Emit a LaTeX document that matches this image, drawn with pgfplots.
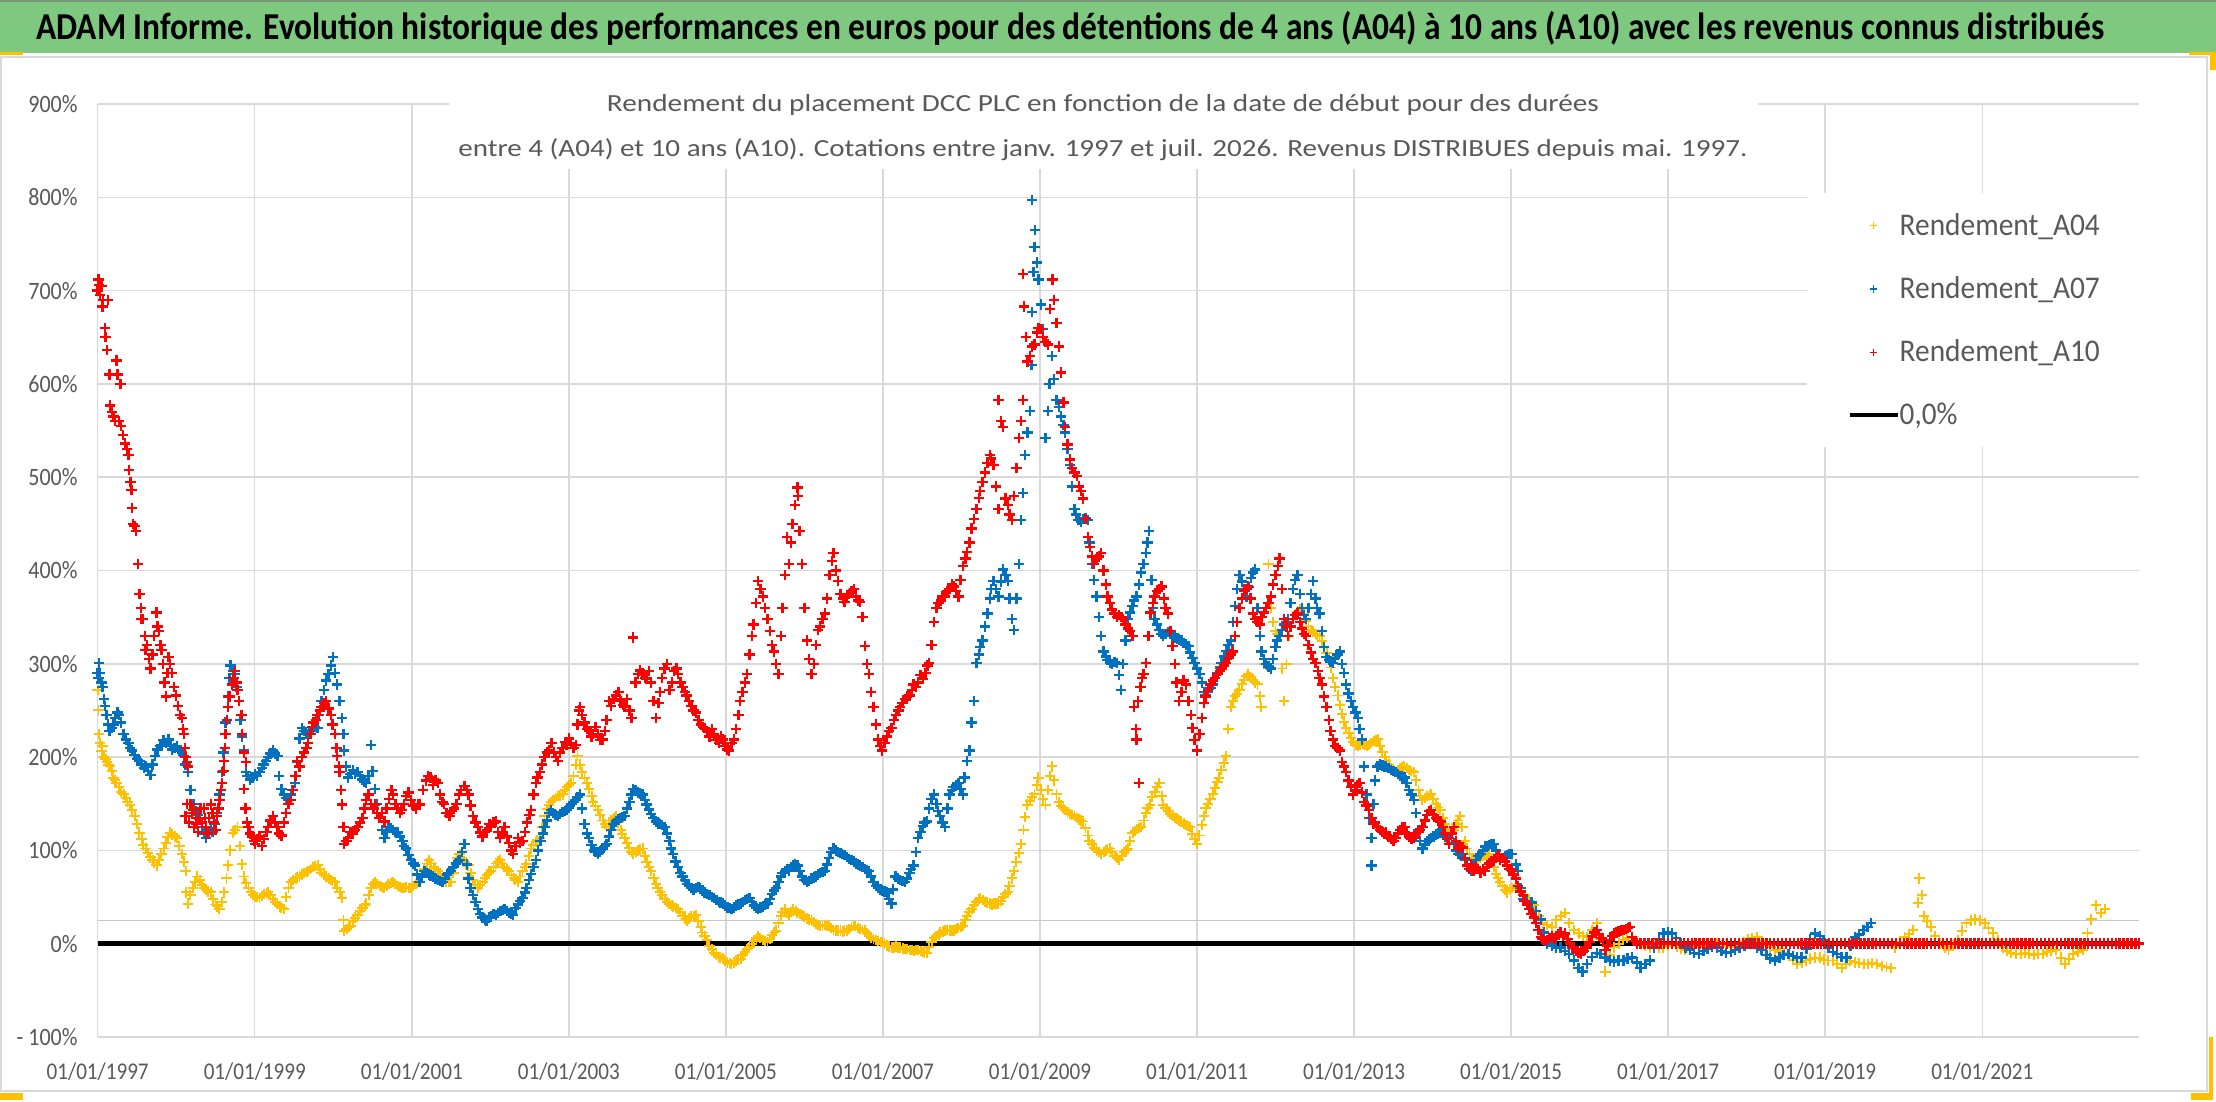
\documentclass[border=0pt]{standalone}
\usepackage{pgfplots}
\pgfplotsset{compat=1.18}
\usepackage{graphicx}
\usepackage{fontspec}
\setmainfont{Carlito}
\definecolor{titlegreen}{RGB}{126,200,128}
\definecolor{txtgray}{RGB}{89,89,89}
\definecolor{gridgray}{RGB}{217,217,217}
\definecolor{lineg}{RGB}{200,200,200}
\definecolor{a04}{RGB}{255,192,0}
\definecolor{a07}{RGB}{0,112,192}
\definecolor{a10}{RGB}{255,0,0}
\newcommand{\tl}[1]{\scalebox{0.88}[1]{#1}}
\pgfplotsset{
  markleg/.style={legend image code/.code={\draw[##1, mark size=1.8pt, line width=0.6pt] plot coordinates {(12pt,0pt)};}},
  lineleg/.style={legend image code/.code={\draw[##1] (0pt,0pt) -- (24pt,0pt);}}
}
\begin{document}
\begin{tikzpicture}
\useasboundingbox (0pt,0pt) rectangle (1108pt,551pt);
\fill[white] (0pt,0pt) rectangle (1108pt,551pt);
\fill[titlegreen] (0pt,524.5pt) rectangle (1108pt,551pt);
\draw[line width=1pt, color={rgb,255:red,120;green,150;blue,120}] (0pt,550.5pt) -- (1108pt,550.5pt);
\draw[gridgray, line width=1pt] (0.5pt,5.5pt) rectangle (1103.5pt,522.5pt);
\node[anchor=base west, inner sep=0pt] at (18pt,531pt) {\resizebox{1034pt}{\height}{\fontsize{19}{19}\selectfont\bfseries ADAM Informe. Evolution historique des performances en euros pour des détentions de 4 ans (A04) à 10 ans (A10) avec les revenus connus distribués}};
\begin{axis}[
  at={(48.85pt,32.5pt)}, anchor=south west,
  scale only axis, width=1020.8pt, height=466.5pt,
  xmin=1997, xmax=2023, ymin=-100, ymax=900,
  axis line style={draw=none},
  tick style={draw=none},
  major tick length=0pt,
  xtick={1997,1999,2001,2003,2005,2007,2009,2011,2013,2015,2017,2019,2021},
  xticklabels={\tl{01/01/1997},\tl{01/01/1999},\tl{01/01/2001},\tl{01/01/2003},\tl{01/01/2005},\tl{01/01/2007},\tl{01/01/2009},\tl{01/01/2011},\tl{01/01/2013},\tl{01/01/2015},\tl{01/01/2017},\tl{01/01/2019},\tl{01/01/2021}},
  ytick={-100,0,100,200,300,400,500,600,700,800,900},
  yticklabels={\tl{- 100\%},\tl{0\%},\tl{100\%},\tl{200\%},\tl{300\%},\tl{400\%},\tl{500\%},\tl{600\%},\tl{700\%},\tl{800\%},\tl{900\%}},
  grid=major,
  major grid style={draw=gridgray, line width=0.75pt},
  xticklabel style={anchor=base, yshift=-21.25pt, inner sep=0pt, font=\fontsize{12}{12}\selectfont, text=txtgray},
  yticklabel style={anchor=east, xshift=-9.85pt, inner sep=0pt, font=\fontsize{12.5}{12.5}\selectfont, text=txtgray},
  legend style={at={(0.8372,0.9046)}, anchor=north west, draw=none, fill=white, inner xsep=20pt, inner ysep=10pt, font=\fontsize{15.8}{15.8}\selectfont, text=txtgray, row sep=19.1pt, /tikz/column 2/.style={column sep=2.5pt}, nodes={inner sep=0pt}},
  legend cell align=left,
]
\addplot[forget plot, draw=lineg, line width=0.75pt] coordinates {(1997,25) (2023,25)};
\addplot[forget plot, black, line width=2.2pt] coordinates {(1997,0) (2023,0)};
% Rendement_A04
\addplot[only marks, mark=+, color=a04, mark size=2.6pt, line width=0.95pt, markleg] coordinates {
(1997.00,272)(1997.01,250)(1997.02,225)(1997.03,215)(1997.05,207)(1997.06,212)(1997.08,200)(1997.10,198)(1997.12,195)(1997.14,192)
(1997.16,190)(1997.18,185)(1997.20,178)(1997.22,175)(1997.24,172)(1997.27,168)(1997.30,163)(1997.33,160)(1997.36,156)(1997.38,152)
(1997.41,149)(1997.44,143)(1997.47,137)(1997.50,128)(1997.53,119)(1997.56,112)(1997.58,106)(1997.61,102)(1997.64,97)(1997.67,93)
(1997.70,90)(1997.72,87)(1997.75,84)(1997.78,90)(1997.81,96)(1997.84,102)(1997.87,108)(1997.89,114)(1997.92,119)(1997.95,117)
(1997.98,115)(1998.01,113)(1998.04,105)(1998.07,96)(1998.10,88)(1998.12,78)(1998.13,55)(1998.15,43)(1998.18,52)(1998.21,60)
(1998.24,66)(1998.27,72)(1998.30,68)(1998.33,63)(1998.35,60)(1998.38,58)(1998.41,56)(1998.44,55)(1998.47,48)(1998.50,42)
(1998.52,40)(1998.55,37)(1998.58,45)(1998.61,55)(1998.64,70)(1998.66,84)(1998.69,100)(1998.72,119)(1998.75,122)(1998.78,125)
(1998.81,105)(1998.84,85)(1998.86,72)(1998.89,65)(1998.92,60)(1998.95,55)(1998.98,52)(1999.00,50)(1999.03,50)(1999.06,49)
(1999.09,51)(1999.12,53)(1999.15,54)(1999.17,55)(1999.20,52)(1999.23,48)(1999.26,45)(1999.29,43)(1999.32,40)(1999.34,38)
(1999.37,37)(1999.40,50)(1999.43,60)(1999.46,66)(1999.49,68)(1999.52,70)(1999.54,71)(1999.57,72)(1999.60,74)(1999.63,76)
(1999.66,77)(1999.68,78)(1999.71,80)(1999.74,82)(1999.77,83)(1999.80,84)(1999.83,80)(1999.85,76)(1999.88,74)(1999.91,72)
(1999.94,70)(1999.97,68)(1999.99,67)(2000.02,66)(2000.05,60)(2000.08,55)(2000.11,49)(2000.13,25)(2000.14,14)(2000.17,16)
(2000.20,18)(2000.22,19)(2000.25,24)(2000.28,28)(2000.31,31)(2000.34,35)(2000.37,38)(2000.40,41)(2000.42,43)(2000.45,52)
(2000.48,60)(2000.51,64)(2000.53,66)(2000.56,64)(2000.59,62)(2000.62,61)(2000.65,60)(2000.68,62)(2000.70,64)(2000.73,65)
(2000.76,66)(2000.79,64)(2000.82,62)(2000.85,61)(2000.87,60)(2000.90,60)(2000.93,61)(2000.96,60)(2000.99,60)(2001.02,62)
(2001.05,64)(2001.07,65)(2001.10,66)(2001.13,72)(2001.16,80)(2001.19,86)(2001.22,90)(2001.25,86)(2001.28,82)(2001.30,80)
(2001.33,78)(2001.36,74)(2001.39,70)(2001.41,68)(2001.44,66)(2001.47,66)(2001.50,66)(2001.53,76)(2001.56,86)(2001.58,92)
(2001.61,96)(2001.64,92)(2001.67,88)(2001.69,86)(2001.72,84)(2001.75,76)(2001.78,68)(2001.81,63)(2001.84,60)(2001.87,63)
(2001.90,66)(2001.93,70)(2001.96,74)(2001.98,76)(2002.01,78)(2002.04,82)(2002.07,86)(2002.10,88)(2002.12,90)(2002.15,86)
(2002.18,82)(2002.21,80)(2002.24,78)(2002.27,74)(2002.30,70)(2002.32,68)(2002.35,66)(2002.38,72)(2002.41,78)(2002.44,82)
(2002.46,85)(2002.49,94)(2002.52,102)(2002.55,106)(2002.58,109)(2002.60,111)(2002.63,113)(2002.66,125)(2002.69,137)(2002.72,144)
(2002.75,149)(2002.77,152)(2002.80,154)(2002.83,156)(2002.86,158)(2002.89,159)(2002.92,160)(2002.95,165)(2002.98,168)(2003.00,170)
(2003.03,172)(2003.06,180)(2003.09,192)(2003.11,201)(2003.14,192)(2003.17,184)(2003.20,178)(2003.23,172)(2003.26,166)(2003.29,158)
(2003.31,152)(2003.34,148)(2003.37,143)(2003.40,138)(2003.43,132)(2003.46,128)(2003.48,125)(2003.51,128)(2003.54,132)(2003.57,135)
(2003.60,137)(2003.63,130)(2003.66,122)(2003.68,118)(2003.71,113)(2003.74,108)(2003.77,103)(2003.80,98)(2003.82,96)(2003.85,98)
(2003.88,100)(2003.91,101)(2003.94,102)(2003.97,94)(2003.99,88)(2004.02,82)(2004.05,78)(2004.08,70)(2004.11,64)(2004.13,60)
(2004.16,55)(2004.19,52)(2004.22,48)(2004.25,45)(2004.28,43)(2004.31,41)(2004.33,40)(2004.36,38)(2004.39,37)(2004.42,34)
(2004.45,30)(2004.48,27)(2004.50,25)(2004.53,27)(2004.56,29)(2004.59,30)(2004.62,31)(2004.65,24)(2004.68,18)(2004.70,12)
(2004.73,8)(2004.76,4)(2004.79,-2)(2004.82,-6)(2004.85,-10)(2004.88,-12)(2004.91,-14)(2004.93,-15)(2004.96,-16)(2004.99,-18)
(2005.02,-20)(2005.05,-21)(2005.07,-22)(2005.10,-20)(2005.13,-18)(2005.16,-17)(2005.19,-16)(2005.22,-12)(2005.24,-9)(2005.27,-6)
(2005.30,-4)(2005.33,0)(2005.36,3)(2005.39,6)(2005.41,8)(2005.44,6)(2005.47,4)(2005.50,3)(2005.53,2)(2005.56,5)
(2005.59,9)(2005.61,12)(2005.64,14)(2005.67,22)(2005.70,30)(2005.72,34)(2005.75,37)(2005.78,33)(2005.80,31)(2005.83,34)
(2005.86,37)(2005.89,35)(2005.91,33)(2005.94,32)(2005.97,31)(2006.00,29)(2006.03,27)(2006.06,26)(2006.09,25)(2006.12,23)
(2006.15,21)(2006.17,20)(2006.20,19)(2006.23,19)(2006.26,20)(2006.29,19)(2006.31,19)(2006.34,17)(2006.37,15)(2006.40,14)
(2006.43,14)(2006.46,14)(2006.49,13)(2006.51,14)(2006.54,14)(2006.57,16)(2006.60,18)(2006.63,19)(2006.65,19)(2006.68,17)
(2006.71,16)(2006.74,15)(2006.77,14)(2006.80,11)(2006.82,8)(2006.85,6)(2006.88,5)(2006.91,4)(2006.94,3)(2006.97,2)
(2006.99,2)(2007.02,0)(2007.05,-2)(2007.08,-3)(2007.11,-4)(2007.14,-4)(2007.17,-3)(2007.19,-4)(2007.22,-4)(2007.25,-5)
(2007.28,-6)(2007.31,-6)(2007.34,-7)(2007.37,-7)(2007.39,-8)(2007.42,-7)(2007.45,-7)(2007.48,-8)(2007.51,-9)(2007.53,-10)
(2007.56,-10)(2007.59,-4)(2007.62,2)(2007.65,6)(2007.68,8)(2007.71,10)(2007.73,12)(2007.76,13)(2007.79,14)(2007.82,15)
(2007.85,14)(2007.88,14)(2007.90,14)(2007.93,16)(2007.96,17)(2007.99,18)(2008.02,19)(2008.05,25)(2008.07,30)(2008.10,34)
(2008.13,37)(2008.16,41)(2008.19,45)(2008.22,48)(2008.24,49)(2008.27,47)(2008.30,45)(2008.33,44)(2008.36,43)(2008.39,42)
(2008.41,43)(2008.44,43)(2008.47,43)(2008.50,46)(2008.53,50)(2008.56,53)(2008.59,55)(2008.61,62)(2008.64,70)(2008.67,78)
(2008.70,88)(2008.73,97)(2008.76,107)(2008.79,122)(2008.81,136)(2008.84,149)(2008.87,153)(2008.90,157)(2008.93,160)(2008.96,170)
(2008.98,178)(2009.01,165)(2009.04,155)(2009.07,149)(2009.10,165)(2009.13,180)(2009.15,190)(2009.18,175)(2009.21,160)(2009.24,152)
(2009.27,148)(2009.30,145)(2009.32,143)(2009.35,141)(2009.38,139)(2009.41,138)(2009.44,137)(2009.47,135)(2009.50,133)(2009.52,132)
(2009.55,131)(2009.58,124)(2009.61,116)(2009.63,110)(2009.66,107)(2009.69,103)(2009.72,100)(2009.75,98)(2009.78,96)(2009.81,98)
(2009.84,100)(2009.86,101)(2009.89,102)(2009.92,98)(2009.95,94)(2009.98,92)(2010.01,90)(2010.04,94)(2010.07,98)(2010.10,100)
(2010.12,102)(2010.15,110)(2010.18,119)(2010.21,121)(2010.24,123)(2010.26,124)(2010.29,125)(2010.32,132)(2010.35,140)(2010.37,145)
(2010.40,149)(2010.43,157)(2010.46,163)(2010.49,168)(2010.52,172)(2010.55,158)(2010.57,149)(2010.60,145)(2010.63,142)(2010.66,139)
(2010.69,137)(2010.72,135)(2010.74,134)(2010.77,132)(2010.80,131)(2010.83,129)(2010.86,127)(2010.88,126)(2010.91,125)(2010.94,118)
(2010.97,112)(2011.00,107)(2011.03,116)(2011.06,127)(2011.09,137)(2011.11,145)(2011.14,150)(2011.17,155)(2011.20,160)(2011.23,167)
(2011.26,173)(2011.28,178)(2011.31,186)(2011.34,194)(2011.37,201)(2011.40,230)(2011.43,254)(2011.46,260)(2011.48,265)(2011.51,268)
(2011.54,272)(2011.57,278)(2011.60,283)(2011.63,287)(2011.65,289)(2011.68,286)(2011.71,283)(2011.74,280)(2011.77,278)(2011.80,265)
(2011.82,254)(2011.85,300)(2011.88,360)(2011.91,407)(2011.94,360)(2011.97,345)(2012.00,335)(2012.02,332)(2012.05,330)(2012.08,295)
(2012.11,260)(2012.14,300)(2012.17,330)(2012.19,340)(2012.22,348)(2012.25,352)(2012.28,356)(2012.31,358)(2012.33,360)(2012.36,353)
(2012.39,346)(2012.42,340)(2012.45,336)(2012.48,334)(2012.51,332)(2012.53,331)(2012.56,330)(2012.59,324)(2012.62,318)(2012.65,312)
(2012.68,307)(2012.71,296)(2012.73,285)(2012.76,275)(2012.79,266)(2012.82,256)(2012.85,246)(2012.87,238)(2012.90,231)(2012.93,226)
(2012.96,220)(2012.99,216)(2013.02,213)(2013.05,212)(2013.08,213)(2013.11,214)(2013.14,213)(2013.16,212)(2013.19,213)(2013.22,215)
(2013.25,217)(2013.28,218)(2013.30,219)(2013.33,212)(2013.36,205)(2013.39,200)(2013.41,196)(2013.44,192)(2013.47,188)(2013.50,186)
(2013.53,184)(2013.56,186)(2013.59,188)(2013.61,189)(2013.64,190)(2013.67,188)(2013.70,186)(2013.73,185)(2013.76,184)(2013.79,175)
(2013.82,165)(2013.84,158)(2013.87,154)(2013.90,156)(2013.93,158)(2013.96,159)(2013.98,160)(2014.01,155)(2014.04,150)(2014.07,146)
(2014.10,143)(2014.13,135)(2014.16,128)(2014.18,122)(2014.21,119)(2014.24,120)(2014.27,122)(2014.30,128)(2014.32,132)(2014.35,137)
(2014.38,125)(2014.41,110)(2014.44,102)(2014.47,96)(2014.50,92)(2014.52,90)(2014.55,89)(2014.58,90)(2014.61,92)(2014.64,94)
(2014.67,95)(2014.69,96)(2014.72,96)(2014.75,90)(2014.78,82)(2014.81,75)(2014.83,70)(2014.86,66)(2014.89,62)(2014.92,58)
(2014.95,55)(2014.98,58)
(2015.01,60)(2015.06,63)(2015.12,56)(2015.18,52)(2015.23,46)(2015.29,41)(2015.35,30)(2015.40,22)(2015.46,20)(2015.52,18)
(2015.57,25)(2015.63,30)(2015.69,33)(2015.74,22)(2015.80,15)(2015.86,11)(2015.91,8)(2015.97,7)(2016.03,15)(2016.09,22)
(2016.14,5)(2016.20,-30)(2016.26,-12)(2016.31,-4)(2016.37,0)(2016.43,4)(2016.48,6)(2016.54,7)(2016.60,3)(2016.65,0)
(2016.71,-2)(2016.77,-4)(2016.82,-3)(2016.88,-4)(2016.94,-4)(2017.00,-2)(2017.05,0)(2017.11,-3)(2017.16,-5)(2017.22,-7)
(2017.28,-5)(2017.33,-4)(2017.39,-4)(2017.45,-2)(2017.50,0)(2017.56,1)(2017.62,0)(2017.68,-2)(2017.74,-3)(2017.80,-4)
(2017.85,-4)(2017.91,-2)(2017.97,2)(2018.02,5)(2018.07,6)(2018.13,7)(2018.19,3)(2018.25,-1)(2018.30,-4)(2018.36,-7)
(2018.42,-9)(2018.47,-10)(2018.53,-11)(2018.59,-17)(2018.64,-22)(2018.70,-20)(2018.76,-18)(2018.81,-16)(2018.87,-15)(2018.93,-15)
(2018.98,-17)(2019.04,-18)(2019.10,-18)(2019.15,-22)(2019.21,-26)(2019.27,-22)(2019.32,-18)(2019.38,-20)(2019.43,-21)(2019.49,-22)
(2019.54,-22)(2019.60,-21)(2019.66,-22)(2019.72,-24)(2019.78,-25)(2019.84,-26)(2019.89,-4)(2019.95,2)(2020.01,7)(2020.07,10)
(2020.12,15)(2020.18,44)(2020.20,70)(2020.23,52)(2020.26,30)(2020.30,24)(2020.35,18)(2020.40,8)(2020.46,0)(2020.52,-4)
(2020.57,-7)(2020.63,-2)(2020.69,4)(2020.74,14)(2020.80,22)(2020.86,25)(2020.91,26)(2020.97,25)(2021.03,22)(2021.08,17)
(2021.14,11)(2021.20,4)(2021.26,-4)(2021.31,-8)(2021.37,-10)(2021.43,-11)(2021.49,-11)(2021.54,-10)(2021.60,-11)(2021.66,-12)
(2021.71,-11)(2021.77,-11)(2021.83,-9)(2021.88,-8)(2021.94,-7)(2022.00,-15)(2022.05,-22)(2022.11,-16)(2022.16,-11)(2022.22,-9)
(2022.28,-7)(2022.34,11)(2022.39,26)(2022.45,41)(2022.51,33)(2022.56,37)
};
\addlegendentry{\resizebox{100pt}{\height}{Rendement\_A04}}
% Rendement_A07
\addplot[only marks, mark=+, color=a07, mark size=2.6pt, line width=1.2pt, markleg] coordinates {
(1997.00,290)(1997.01,285)(1997.02,301)(1997.03,290)(1997.05,280)(1997.06,275)(1997.08,262)(1997.09,255)(1997.11,245)(1997.13,235)
(1997.15,228)(1997.18,231)(1997.20,235)(1997.22,242)(1997.25,248)(1997.27,245)(1997.30,237)(1997.33,225)(1997.36,219)(1997.39,215)
(1997.41,210)(1997.44,207)(1997.47,202)(1997.50,198)(1997.53,196)(1997.56,192)(1997.59,188)(1997.61,190)(1997.64,185)(1997.67,181)
(1997.70,192)(1997.73,201)(1997.76,208)(1997.79,212)(1997.81,213)(1997.84,218)(1997.87,215)(1997.90,219)(1997.93,212)(1997.95,208)
(1997.98,210)(1998.01,212)(1998.04,207)(1998.07,205)(1998.10,201)(1998.12,192)(1998.15,184)(1998.18,165)(1998.20,150)(1998.22,150)
(1998.25,142)(1998.28,138)(1998.30,135)(1998.33,125)(1998.36,118)(1998.38,113)(1998.41,118)(1998.44,122)(1998.46,120)(1998.49,128)
(1998.52,140)(1998.55,160)(1998.58,184)(1998.60,205)(1998.63,237)(1998.66,265)(1998.68,285)(1998.69,298)(1998.72,292)(1998.75,289)
(1998.77,275)(1998.80,260)(1998.82,240)(1998.84,222)(1998.86,207)(1998.89,184)(1998.91,180)(1998.94,176)(1998.97,178)(1999.00,182)
(1999.03,180)(1999.06,184)(1999.09,188)(1999.11,192)(1999.14,196)(1999.17,200)(1999.20,204)(1999.23,207)(1999.26,204)(1999.29,201)
(1999.31,180)(1999.34,166)(1999.37,160)(1999.40,156)(1999.43,154)(1999.46,160)(1999.48,165)(1999.51,172)(1999.54,195)(1999.57,220)
(1999.60,231)(1999.63,228)(1999.66,225)(1999.68,225)(1999.71,228)(1999.74,230)(1999.77,232)(1999.80,231)(1999.82,245)(1999.85,260)
(1999.88,272)(1999.91,282)(1999.94,289)(1999.97,298)(2000.00,307)(2000.02,290)(2000.05,278)(2000.08,260)(2000.11,242)(2000.13,225)
(2000.14,207)(2000.16,190)(2000.19,178)(2000.22,182)(2000.25,186)(2000.28,182)(2000.31,184)(2000.34,180)(2000.37,176)(2000.40,174)
(2000.42,172)(2000.45,180)(2000.48,213)(2000.50,185)(2000.53,166)(2000.56,150)(2000.59,135)(2000.62,122)(2000.65,113)(2000.68,120)
(2000.70,125)(2000.73,124)(2000.76,122)(2000.79,120)(2000.82,119)(2000.85,115)(2000.88,110)(2000.90,105)(2000.93,102)(2000.96,95)
(2000.99,90)(2001.02,86)(2001.04,84)(2001.07,74)(2001.10,66)(2001.13,72)(2001.16,78)(2001.19,76)(2001.22,74)(2001.24,73)
(2001.27,72)(2001.30,70)(2001.33,68)(2001.36,67)(2001.39,66)(2001.42,70)(2001.45,74)(2001.47,76)(2001.50,78)(2001.53,82)
(2001.56,86)(2001.59,88)(2001.61,90)(2001.64,98)(2001.67,107)(2001.70,85)(2001.72,70)(2001.75,60)(2001.78,52)(2001.81,45)
(2001.84,37)(2001.87,32)(2001.90,28)(2001.93,26)(2001.95,25)(2001.98,28)(2002.01,30)(2002.04,32)(2002.07,31)(2002.10,33)
(2002.13,35)(2002.16,36)(2002.18,37)(2002.21,35)(2002.24,33)(2002.27,32)(2002.29,31)(2002.32,38)(2002.35,42)(2002.38,46)
(2002.41,49)(2002.44,55)(2002.46,60)(2002.49,68)(2002.52,75)(2002.55,82)(2002.58,90)(2002.61,100)(2002.64,110)(2002.67,118)
(2002.69,125)(2002.72,132)(2002.75,140)(2002.77,143)(2002.80,140)(2002.83,138)(2002.86,137)(2002.89,139)(2002.92,141)(2002.95,142)
(2002.97,143)(2003.00,146)(2003.03,150)(2003.06,152)(2003.09,154)(2003.11,157)(2003.14,160)(2003.17,145)(2003.20,128)(2003.23,118)
(2003.26,113)(2003.29,106)(2003.32,100)(2003.34,98)(2003.37,96)(2003.40,99)(2003.43,102)(2003.46,105)(2003.48,107)(2003.51,115)
(2003.54,122)(2003.57,128)(2003.60,131)(2003.63,133)(2003.66,135)(2003.68,136)(2003.71,137)(2003.74,145)(2003.77,152)(2003.80,160)
(2003.82,166)(2003.85,164)(2003.88,162)(2003.91,161)(2003.94,160)(2003.97,154)(2003.99,149)(2004.02,144)(2004.05,139)(2004.08,135)
(2004.11,131)(2004.14,129)(2004.16,128)(2004.19,127)(2004.22,125)(2004.25,118)(2004.28,110)(2004.30,102)(2004.33,96)(2004.36,88)
(2004.39,82)(2004.42,76)(2004.45,72)(2004.48,68)(2004.51,64)(2004.53,62)(2004.56,60)(2004.59,58)(2004.62,60)(2004.65,61)
(2004.67,60)(2004.70,57)(2004.73,55)(2004.76,53)(2004.79,52)(2004.82,50)(2004.85,49)(2004.88,47)(2004.91,45)(2004.93,44)
(2004.96,43)(2004.99,41)(2005.02,39)(2005.05,38)(2005.07,37)(2005.10,39)(2005.13,41)(2005.16,42)(2005.19,43)(2005.22,45)
(2005.24,47)(2005.27,48)(2005.30,49)(2005.33,45)(2005.36,41)(2005.39,38)(2005.41,37)(2005.44,39)(2005.47,40)(2005.50,42)
(2005.53,43)(2005.56,48)(2005.59,53)(2005.61,57)(2005.64,60)(2005.67,66)(2005.70,72)(2005.72,76)(2005.75,78)(2005.78,80)
(2005.80,78)(2005.83,82)(2005.86,84)(2005.88,85)(2005.91,84)(2005.94,78)(2005.97,72)(2006.00,68)(2006.03,66)(2006.06,67)
(2006.09,70)(2006.12,71)(2006.14,72)(2006.17,74)(2006.20,76)(2006.23,77)(2006.26,78)(2006.29,85)(2006.31,92)(2006.34,98)
(2006.37,102)(2006.40,100)(2006.43,98)(2006.46,97)(2006.48,96)(2006.51,95)(2006.54,93)(2006.57,91)(2006.60,90)(2006.63,88)
(2006.66,86)(2006.68,85)(2006.71,84)(2006.74,82)(2006.77,80)(2006.80,79)(2006.82,78)(2006.85,72)(2006.88,66)(2006.91,62)
(2006.94,60)(2006.97,58)(2006.99,57)(2007.02,56)(2007.05,55)(2007.08,48)(2007.11,43)(2007.13,58)(2007.16,72)(2007.19,70)
(2007.22,68)(2007.25,67)(2007.28,66)(2007.31,70)(2007.34,76)(2007.36,80)(2007.39,84)(2007.42,98)(2007.45,113)(2007.48,120)
(2007.51,126)(2007.53,130)(2007.56,131)(2007.59,145)(2007.62,155)(2007.65,160)(2007.68,150)(2007.70,142)(2007.73,137)(2007.76,130)
(2007.79,125)(2007.82,145)(2007.85,160)(2007.88,165)(2007.90,168)(2007.93,170)(2007.96,172)(2007.99,166)(2008.02,160)(2008.04,178)
(2008.07,196)(2008.10,207)(2008.13,237)(2008.16,260)(2008.19,301)(2008.22,310)(2008.24,318)(2008.27,325)(2008.30,340)(2008.33,354)
(2008.36,370)(2008.38,380)(2008.41,389)(2008.44,380)(2008.47,372)(2008.50,388)(2008.53,401)(2008.56,395)(2008.59,389)(2008.61,370)
(2008.64,348)(2008.67,336)(2008.70,370)(2008.73,407)(2008.76,454)(2008.78,483)(2008.81,524)(2008.84,548)(2008.87,571)(2008.89,620)
(2008.90,677)(2008.92,720)(2008.93,747)(2008.90,797)(2008.94,765)(2008.96,730)(2008.98,712)(2009.01,685)(2009.04,659)(2009.07,542)
(2009.10,571)(2009.12,600)(2009.15,630)(2009.18,605)(2009.21,583)(2009.24,575)(2009.27,565)(2009.30,556)(2009.32,548)(2009.35,530)
(2009.38,513)(2009.41,490)(2009.44,466)(2009.46,460)(2009.49,454)(2009.52,452)(2009.55,455)(2009.58,456)(2009.61,454)(2009.63,430)
(2009.66,407)(2009.69,390)(2009.72,372)(2009.75,350)(2009.78,330)(2009.81,313)(2009.84,308)(2009.86,304)(2009.89,301)(2009.92,300)
(2009.95,302)(2009.98,301)(2010.01,288)(2010.03,272)(2010.06,300)(2010.09,325)(2010.12,348)(2010.15,355)(2010.18,362)(2010.20,368)
(2010.23,372)(2010.26,385)(2010.29,398)(2010.32,407)(2010.35,419)(2010.37,430)(2010.39,442)(2010.42,390)(2010.44,360)(2010.46,348)
(2010.49,342)(2010.52,336)(2010.55,332)(2010.57,330)(2010.60,332)(2010.63,334)(2010.66,332)(2010.69,330)(2010.72,328)(2010.75,327)
(2010.77,326)(2010.80,325)(2010.83,322)(2010.86,320)(2010.89,319)(2010.91,312)(2010.94,306)(2010.97,301)(2011.00,295)(2011.03,289)
(2011.06,280)(2011.09,270)(2011.11,266)(2011.14,270)(2011.17,274)(2011.20,278)(2011.23,285)(2011.26,290)(2011.29,296)(2011.31,301)
(2011.34,308)(2011.37,314)(2011.40,320)(2011.43,325)(2011.46,345)(2011.48,362)(2011.51,380)(2011.54,395)(2011.57,388)(2011.60,380)
(2011.63,372)(2011.66,382)(2011.69,392)(2011.71,398)(2011.74,401)(2011.77,360)(2011.80,330)(2011.82,313)(2011.85,305)(2011.88,300)
(2011.91,297)(2011.94,295)(2011.97,305)(2012.00,318)(2012.02,325)(2012.05,330)(2012.08,336)(2012.11,342)(2012.14,345)(2012.16,348)
(2012.19,365)(2012.22,380)(2012.25,390)(2012.28,395)(2012.31,375)(2012.34,360)(2012.36,352)(2012.39,348)(2012.42,360)(2012.45,375)
(2012.48,389)(2012.51,370)(2012.53,360)(2012.56,354)(2012.59,335)(2012.62,318)(2012.65,307)(2012.68,304)(2012.70,302)(2012.73,301)
(2012.76,306)(2012.79,310)(2012.82,313)(2012.85,300)(2012.87,290)(2012.90,278)(2012.93,268)(2012.96,260)(2012.99,254)(2013.02,248)
(2013.05,242)(2013.07,230)(2013.10,219)(2013.13,190)(2013.16,160)(2013.19,135)(2013.22,113)(2013.22,84)(2013.25,150)(2013.27,175)
(2013.30,190)(2013.33,192)(2013.36,191)(2013.39,190)(2013.41,190)(2013.44,188)(2013.47,186)(2013.50,185)(2013.53,184)(2013.56,182)
(2013.59,180)(2013.61,179)(2013.64,178)(2013.67,172)(2013.70,165)(2013.73,160)(2013.76,154)(2013.79,140)(2013.82,122)(2013.84,110)
(2013.87,102)(2013.90,106)(2013.93,110)(2013.96,112)(2013.98,113)(2014.01,115)(2014.04,117)(2014.07,118)(2014.10,119)(2014.13,117)
(2014.16,115)(2014.18,114)(2014.21,113)(2014.24,118)(2014.27,108)(2014.30,100)(2014.32,96)(2014.35,95)(2014.38,96)(2014.41,90)
(2014.44,84)(2014.47,80)(2014.49,78)(2014.52,84)(2014.55,90)(2014.58,94)(2014.61,96)(2014.64,100)(2014.67,104)(2014.70,105)
(2014.72,106)(2014.75,107)(2014.78,107)(2014.81,100)(2014.84,95)(2014.86,92)(2014.89,92)(2014.92,94)(2014.95,95)(2014.98,96)
(2015.01,96)(2015.06,85)(2015.09,78)(2015.12,60)(2015.15,48)(2015.20,46)(2015.26,44)(2015.32,35)(2015.38,26)(2015.42,12)
(2015.46,0)(2015.52,-2)(2015.57,-4)(2015.63,-4)(2015.69,-8)(2015.74,-11)(2015.80,-18)(2015.86,-26)(2015.91,-30)(2015.97,-22)
(2016.03,-14)(2016.09,-10)(2016.14,-11)(2016.20,-15)(2016.26,-18)(2016.31,-19)(2016.37,-18)(2016.43,-18)(2016.48,-16)(2016.54,-15)
(2016.60,-20)(2016.65,-26)(2016.71,-22)(2016.77,-18)(2016.82,-4)(2016.88,5)(2016.94,11)(2017.00,12)(2017.05,11)(2017.10,6)
(2017.16,0)(2017.22,-4)(2017.28,-7)(2017.33,-10)(2017.39,-11)(2017.45,-8)(2017.50,-5)(2017.56,-3)(2017.62,-4)(2017.68,-8)
(2017.74,-10)(2017.80,-9)(2017.85,-7)(2017.91,-4)(2017.97,-2)(2018.02,0)(2018.07,0)(2018.13,-4)(2018.19,-7)(2018.25,-12)
(2018.30,-16)(2018.36,-18)(2018.42,-15)(2018.47,-12)(2018.53,-11)(2018.59,-13)(2018.64,-15)(2018.70,-15)(2018.76,-5)(2018.81,5)
(2018.87,11)(2018.93,8)(2018.98,4)(2019.04,-4)(2019.10,-9)(2019.15,-11)(2019.21,-14)(2019.27,-15)(2019.32,-2)(2019.38,7)
(2019.43,10)(2019.49,15)(2019.54,18)(2019.58,22)
};
\addlegendentry{\resizebox{100pt}{\height}{Rendement\_A07}}
% Rendement_A10
\addplot[only marks, mark=+, color=a10, mark size=2.6pt, line width=1.2pt, markleg] coordinates {
(1997.00,700)(1997.01,712)(1997.02,706)(1997.03,695)(1997.05,705)(1997.06,683)(1997.07,690)(1997.09,660)(1997.10,650)(1997.12,636)
(1997.13,690)(1997.15,610)(1997.16,577)(1997.18,570)(1997.20,565)(1997.22,560)(1997.24,625)(1997.25,610)(1997.27,560)(1997.29,600)
(1997.30,555)(1997.32,545)(1997.35,536)(1997.37,530)(1997.39,524)(1997.40,508)(1997.42,495)(1997.43,486)(1997.44,467)(1997.45,450)
(1997.47,448)(1997.49,442)(1997.51,407)(1997.53,375)(1997.55,360)(1997.56,348)(1997.58,348)(1997.60,330)(1997.61,315)(1997.63,320)
(1997.65,305)(1997.67,295)(1997.70,310)(1997.72,330)(1997.75,355)(1997.76,340)(1997.78,335)(1997.80,320)(1997.81,315)(1997.83,300)
(1997.85,280)(1997.87,265)(1997.89,290)(1997.90,307)(1997.92,300)(1997.95,290)(1997.97,275)(1998.00,266)(1998.02,255)(1998.05,245)
(1998.07,242)(1998.09,230)(1998.10,225)(1998.11,210)(1998.12,200)(1998.14,195)(1998.15,190)
(1998.12,137)(1998.14,150)(1998.16,130)(1998.18,150)(1998.20,140)(1998.21,143)(1998.23,125)(1998.25,135)(1998.26,128)(1998.28,120)
(1998.29,134)(1998.31,145)(1998.33,130)(1998.35,145)(1998.37,135)(1998.38,125)(1998.40,118)(1998.42,135)(1998.44,149)(1998.46,140)
(1998.48,130)(1998.50,122)(1998.52,137)(1998.54,145)(1998.55,154)(1998.57,165)(1998.58,172)(1998.60,185)(1998.61,196)(1998.62,210)
(1998.63,225)(1998.65,240)(1998.66,254)(1998.68,265)(1998.71,278)(1998.73,285)(1998.75,292)(1998.77,280)(1998.78,272)(1998.80,260)
(1998.83,245)(1998.84,225)(1998.86,205)(1998.89,195)(1998.86,166)(1998.88,145)(1998.90,130)(1998.92,125)(1998.94,118)(1998.97,115)
(1998.99,110)(1999.00,107)(1999.03,112)(1999.06,115)(1999.09,105)(1999.12,112)(1999.15,120)(1999.17,125)(1999.20,132)(1999.23,137)
(1999.26,130)(1999.29,125)(1999.31,118)(1999.34,116)(1999.37,130)(1999.40,140)(1999.43,150)(1999.46,154)(1999.49,165)(1999.52,180)
(1999.54,196)(1999.57,190)(1999.60,200)(1999.63,205)(1999.66,210)(1999.68,215)(1999.71,225)(1999.73,232)(1999.75,237)(1999.78,240)
(1999.80,245)(1999.83,250)(1999.85,254)(1999.88,258)(1999.91,260)(1999.94,252)(1999.97,245)(1999.99,235)(2000.02,225)(2000.04,210)
(2000.05,201)(2000.07,190)(2000.08,184)(2000.10,165)(2000.11,149)(2000.13,125)(2000.14,107)(2000.17,110)(2000.19,113)(2000.22,120)
(2000.25,118)(2000.28,122)(2000.31,125)(2000.34,130)(2000.37,135)(2000.40,145)(2000.42,154)(2000.45,160)(2000.48,150)(2000.51,145)
(2000.53,149)(2000.56,140)(2000.59,135)(2000.62,140)(2000.65,131)(2000.68,145)(2000.71,155)(2000.74,165)(2000.76,160)(2000.79,150)
(2000.82,145)(2000.85,140)(2000.87,143)(2000.90,150)(2000.93,158)(2000.96,162)(2000.99,154)(2001.02,148)(2001.05,145)(2001.08,150)
(2001.10,149)(2001.14,165)(2001.18,175)(2001.21,180)(2001.24,178)(2001.27,170)(2001.30,175)(2001.33,172)(2001.36,160)(2001.39,152)
(2001.41,150)(2001.44,140)(2001.48,137)(2001.51,142)(2001.54,145)(2001.57,150)(2001.60,160)(2001.63,165)(2001.67,169)(2001.70,165)
(2001.72,160)(2001.75,148)(2001.78,137)(2001.81,130)(2001.84,125)(2001.87,119)(2001.90,115)(2001.93,120)(2001.96,122)(2001.99,128)
(2002.01,125)(2002.04,130)(2002.07,131)(2002.10,120)(2002.12,113)(2002.15,118)(2002.18,125)(2002.21,115)(2002.24,108)(2002.27,100)
(2002.29,96)(2002.32,105)(2002.35,113)(2002.38,108)(2002.41,110)(2002.44,120)(2002.47,130)(2002.50,138)(2002.52,143)(2002.55,160)
(2002.58,172)(2002.60,178)(2002.63,184)(2002.66,192)(2002.69,200)(2002.72,205)(2002.75,207)(2002.78,215)(2002.81,205)(2002.84,200)
(2002.86,196)(2002.89,205)(2002.92,210)(2002.95,216)(2002.97,213)(2003.00,220)(2003.03,215)(2003.06,210)(2003.09,213)(2003.11,235)
(2003.13,250)(2003.14,254)(2003.17,245)(2003.20,237)(2003.23,230)(2003.26,228)(2003.29,222)(2003.31,225)(2003.34,232)(2003.37,225)
(2003.40,218)(2003.43,219)(2003.46,228)(2003.48,240)(2003.51,260)(2003.54,255)(2003.57,262)(2003.60,266)(2003.63,270)(2003.66,260)
(2003.69,256)(2003.71,254)(2003.74,262)(2003.77,250)(2003.80,242)(2003.82,328)(2003.85,280)(2003.88,289)(2003.91,293)(2003.94,290)
(2003.97,285)(2003.99,284)(2004.02,292)(2004.05,280)(2004.08,260)(2004.11,242)(2004.14,258)(2004.16,270)(2004.19,285)(2004.22,295)
(2004.25,300)(2004.28,272)(2004.31,280)(2004.34,292)(2004.37,295)(2004.39,289)(2004.42,280)(2004.45,275)(2004.48,270)(2004.50,266)
(2004.53,260)(2004.56,255)(2004.59,250)(2004.62,248)(2004.65,240)(2004.68,235)(2004.71,232)(2004.73,231)(2004.76,228)(2004.79,222)
(2004.82,230)(2004.85,225)(2004.88,218)(2004.91,215)(2004.94,222)(2004.96,219)(2004.99,212)(2005.02,208)(2005.04,207)(2005.07,215)
(2005.10,219)(2005.13,230)(2005.16,245)(2005.18,260)(2005.21,270)(2005.24,280)(2005.27,289)(2005.30,310)(2005.33,330)(2005.35,342)
(2005.38,365)(2005.41,389)(2005.44,380)(2005.47,372)(2005.50,360)(2005.53,348)(2005.56,335)(2005.59,320)(2005.61,313)(2005.64,300)
(2005.67,289)(2005.70,330)(2005.72,360)(2005.75,395)(2005.78,436)(2005.80,407)(2005.83,430)(2005.85,450)(2005.88,470)(2005.91,489)
(2005.92,480)(2005.94,442)(2005.97,407)(2006.00,360)(2006.03,325)(2006.06,305)(2006.09,289)(2006.12,300)(2006.15,320)(2006.17,336)
(2006.20,340)(2006.23,348)(2006.26,354)(2006.29,370)(2006.32,395)(2006.35,410)(2006.37,419)(2006.40,400)(2006.43,389)(2006.46,375)
(2006.49,370)(2006.51,366)(2006.54,372)(2006.57,375)(2006.60,378)(2006.63,380)(2006.66,372)(2006.69,368)(2006.71,366)(2006.74,350)
(2006.77,319)(2006.80,300)(2006.82,289)(2006.85,270)(2006.88,254)(2006.91,235)(2006.94,219)(2006.97,212)(2006.99,207)(2007.02,215)
(2007.05,222)(2007.08,228)(2007.11,231)(2007.14,240)(2007.17,245)(2007.20,250)(2007.22,254)(2007.25,258)(2007.28,262)(2007.31,265)
(2007.34,266)(2007.37,272)(2007.39,278)(2007.42,275)(2007.45,280)(2007.48,288)(2007.51,284)(2007.54,290)(2007.57,298)(2007.59,301)
(2007.62,320)(2007.65,345)(2007.68,360)(2007.71,365)(2007.74,368)(2007.76,372)(2007.79,372)(2007.82,378)(2007.85,380)(2007.88,385)
(2007.90,383)(2007.93,378)(2007.96,372)(2007.99,390)(2008.02,405)(2008.05,413)(2008.07,420)(2008.10,430)(2008.13,445)(2008.16,455)
(2008.19,466)(2008.22,478)(2008.24,485)(2008.27,495)(2008.30,505)(2008.33,515)(2008.36,524)(2008.38,520)(2008.41,513)(2008.44,490)
(2008.47,466)(2008.47,583)(2008.50,560)(2008.53,554)(2008.56,477)(2008.59,470)(2008.61,460)(2008.64,454)(2008.67,480)(2008.70,510)
(2008.73,542)(2008.76,560)(2008.78,583)(2008.80,683)(2008.78,718)(2008.82,650)(2008.84,624)(2008.87,630)(2008.90,640)(2008.93,642)
(2008.96,655)(2008.98,660)(2009.01,659)(2009.04,650)(2009.07,645)(2009.10,642)(2009.13,680)(2009.16,712)(2009.18,690)(2009.21,665)
(2009.24,640)(2009.27,612)(2009.30,580)(2009.32,554)(2009.35,535)(2009.38,519)(2009.41,510)(2009.44,505)(2009.47,501)(2009.50,490)
(2009.52,485)(2009.55,477)(2009.58,455)(2009.61,436)(2009.64,425)(2009.66,415)(2009.69,407)(2009.72,412)(2009.75,415)(2009.78,419)
(2009.81,400)(2009.84,385)(2009.86,372)(2009.89,365)(2009.92,358)(2009.95,354)(2009.98,350)(2010.01,352)(2010.04,350)(2010.06,348)
(2010.09,342)(2010.12,338)(2010.15,335)(2010.18,330)(2010.20,254)(2010.22,230)(2010.23,219)(2010.26,172)(2010.25,260)(2010.28,275)
(2010.30,285)(2010.32,289)(2010.35,301)(2010.38,330)(2010.41,355)(2010.44,365)(2010.46,372)(2010.49,378)(2010.52,380)(2010.55,383)
(2010.58,370)(2010.60,360)(2010.63,354)(2010.66,335)(2010.69,319)(2010.72,300)(2010.74,280)(2010.77,260)(2010.80,270)(2010.83,282)
(2010.86,278)(2010.89,260)(2010.92,245)(2010.94,231)(2010.97,218)(2011.00,207)(2011.03,225)(2011.06,242)(2011.09,258)(2011.11,265)
(2011.14,272)(2011.17,278)(2011.20,282)(2011.23,285)(2011.26,289)(2011.29,292)(2011.32,295)(2011.34,298)(2011.37,301)(2011.40,306)
(2011.43,310)(2011.45,313)(2011.48,330)(2011.51,345)(2011.54,360)(2011.57,370)(2011.60,378)(2011.63,380)(2011.65,383)(2011.68,370)
(2011.71,354)(2011.74,348)(2011.77,345)(2011.80,342)(2011.82,350)(2011.85,355)(2011.88,360)(2011.91,365)(2011.94,372)(2011.97,385)
(2012.00,395)(2012.03,405)(2012.05,413)(2012.08,380)(2012.11,348)(2012.14,340)(2012.16,330)(2012.19,340)(2012.22,348)(2012.25,352)
(2012.28,354)(2012.31,345)(2012.34,338)(2012.36,332)(2012.39,330)(2012.42,320)(2012.45,312)(2012.48,305)(2012.51,301)(2012.54,292)
(2012.56,285)(2012.59,278)(2012.62,265)(2012.65,254)(2012.68,240)(2012.70,228)(2012.73,219)(2012.76,212)(2012.79,210)(2012.82,207)
(2012.85,195)(2012.87,190)(2012.90,184)(2012.93,175)(2012.96,168)(2012.99,160)(2013.02,165)(2013.04,170)(2013.07,172)(2013.10,162)
(2013.13,152)(2013.16,148)(2013.19,143)(2013.22,135)(2013.25,128)(2013.27,130)(2013.30,125)(2013.33,122)(2013.36,120)(2013.39,118)
(2013.41,119)(2013.44,115)(2013.47,112)(2013.50,110)(2013.53,113)(2013.56,118)(2013.59,122)(2013.61,125)(2013.64,125)(2013.67,118)
(2013.70,115)(2013.73,112)(2013.76,113)(2013.79,118)(2013.82,120)(2013.84,122)(2013.87,125)(2013.90,132)(2013.93,138)(2013.96,142)
(2013.98,143)(2014.01,138)(2014.04,135)(2014.07,132)(2014.10,131)(2014.13,125)(2014.16,118)(2014.18,112)(2014.21,107)(2014.24,118)
(2014.27,125)(2014.30,110)(2014.32,102)(2014.35,105)(2014.38,103)(2014.41,92)(2014.44,84)(2014.47,80)(2014.49,85)(2014.52,78)
(2014.55,82)(2014.58,80)(2014.61,76)(2014.64,80)(2014.66,78)(2014.69,82)(2014.72,86)(2014.75,88)(2014.78,89)(2014.81,92)
(2014.84,95)(2014.86,90)(2014.89,92)(2014.92,88)(2014.95,84)(2014.98,80)(2015.01,78)(2015.03,74)(2015.06,70)(2015.09,62)
(2015.12,56)(2015.15,52)(2015.17,46)(2015.20,42)(2015.23,37)(2015.26,32)(2015.29,28)(2015.32,22)(2015.35,15)(2015.38,7)
(2015.40,5)(2015.43,3)(2015.46,4)(2015.49,6)(2015.52,8)(2015.55,5)(2015.57,7)(2015.60,10)(2015.63,12)(2015.66,8)
(2015.69,11)(2015.72,5)(2015.75,0)(2015.78,-4)(2015.80,-4)(2015.83,-8)(2015.86,-10)(2015.89,-11)(2015.92,-8)(2015.94,-4)
(2015.97,-4)(2016.00,2)(2016.03,8)(2016.06,12)(2016.09,15)(2016.12,10)(2016.15,6)(2016.17,4)(2016.20,-7)(2016.23,-2)
(2016.26,4)(2016.29,8)(2016.31,11)(2016.34,12)(2016.37,13)(2016.40,14)(2016.43,15)(2016.46,16)(2016.49,17)(2016.51,18)
(2016.54,7)(2016.57,3)
(2016.60,0)(2016.65,0)(2016.70,0)(2016.75,0)(2016.80,0)(2016.85,0)(2016.90,0)(2016.95,0)
(2017.00,0)(2017.05,0)(2017.10,0)(2017.15,0)(2017.20,0)(2017.25,0)(2017.30,0)(2017.35,0)(2017.40,0)(2017.45,0)
(2017.50,0)(2017.55,0)(2017.60,0)(2017.65,0)(2017.70,0)(2017.75,0)(2017.80,0)(2017.85,0)(2017.90,0)(2017.95,0)
(2018.00,0)(2018.05,0)(2018.10,0)(2018.15,0)(2018.20,0)(2018.25,0)(2018.30,0)(2018.35,0)(2018.40,0)(2018.45,0)
(2018.50,0)(2018.55,0)(2018.60,0)(2018.65,0)(2018.70,0)(2018.75,0)(2018.80,0)(2018.85,0)(2018.90,0)(2018.95,0)
(2019.00,0)(2019.05,0)(2019.10,0)(2019.15,0)(2019.20,0)(2019.25,0)(2019.30,0)(2019.35,0)(2019.40,0)(2019.45,0)
(2019.50,0)(2019.55,0)(2019.60,0)(2019.65,0)(2019.70,0)(2019.75,0)(2019.80,0)(2019.85,0)(2019.90,0)(2019.95,0)
(2020.00,0)(2020.05,0)(2020.10,0)(2020.15,0)(2020.20,0)(2020.25,0)(2020.30,0)(2020.35,0)(2020.40,0)(2020.45,0)
(2020.50,0)(2020.55,0)(2020.60,0)(2020.65,0)(2020.70,0)(2020.75,0)(2020.80,0)(2020.85,0)(2020.90,0)(2020.95,0)
(2021.00,0)(2021.05,0)(2021.10,0)(2021.15,0)(2021.20,0)(2021.25,0)(2021.30,0)(2021.35,0)(2021.40,0)(2021.45,0)
(2021.50,0)(2021.55,0)(2021.60,0)(2021.65,0)(2021.70,0)(2021.75,0)(2021.80,0)(2021.85,0)(2021.90,0)(2021.95,0)
(2022.00,0)(2022.05,0)(2022.10,0)(2022.15,0)(2022.20,0)(2022.25,0)(2022.30,0)(2022.35,0)(2022.40,0)(2022.45,0)
(2022.50,0)(2022.55,0)(2022.60,0)(2022.65,0)(2022.70,0)(2022.75,0)(2022.80,0)(2022.85,0)(2022.90,0)(2022.95,0)
(2023.00,0)
};
\addlegendentry{\resizebox{100pt}{\height}{Rendement\_A10}}
\addlegendimage{black, line width=2.2pt, lineleg}
\addlegendentry{\scalebox{0.925}[1]{0,0\%}}
\end{axis}
\fill[white] (224.5pt,466.5pt) rectangle (879pt,508.5pt);
\node[anchor=base, inner sep=0pt, text=txtgray] at (551.5pt,495pt) {\resizebox{496pt}{\height}{\fontsize{12.3}{12.3}\selectfont Rendement du placement DCC PLC en fonction de la date de début pour des durées}};
\node[anchor=base, inner sep=0pt, text=txtgray] at (551.5pt,472.5pt) {\resizebox{644.5pt}{\height}{\fontsize{12.3}{12.3}\selectfont entre 4 (A04) et 10 ans (A10). Cotations entre janv. 1997 et juil. 2026. Revenus DISTRIBUES depuis mai. 1997.}};
\fill[a04] (0pt,1pt) rectangle (11.5pt,4.5pt);
\fill[a04] (0pt,523.5pt) rectangle (11.5pt,525pt);
\fill[a04] (1104.5pt,1pt) rectangle (1106.5pt,32.5pt);
\fill[a04] (1095.5pt,1pt) rectangle (1106.5pt,4.5pt);
\fill[a04] (1105pt,516pt) rectangle (1108pt,525pt);
\fill[a04] (1094.5pt,523.5pt) rectangle (1108pt,525pt);
\end{tikzpicture}
\end{document}
